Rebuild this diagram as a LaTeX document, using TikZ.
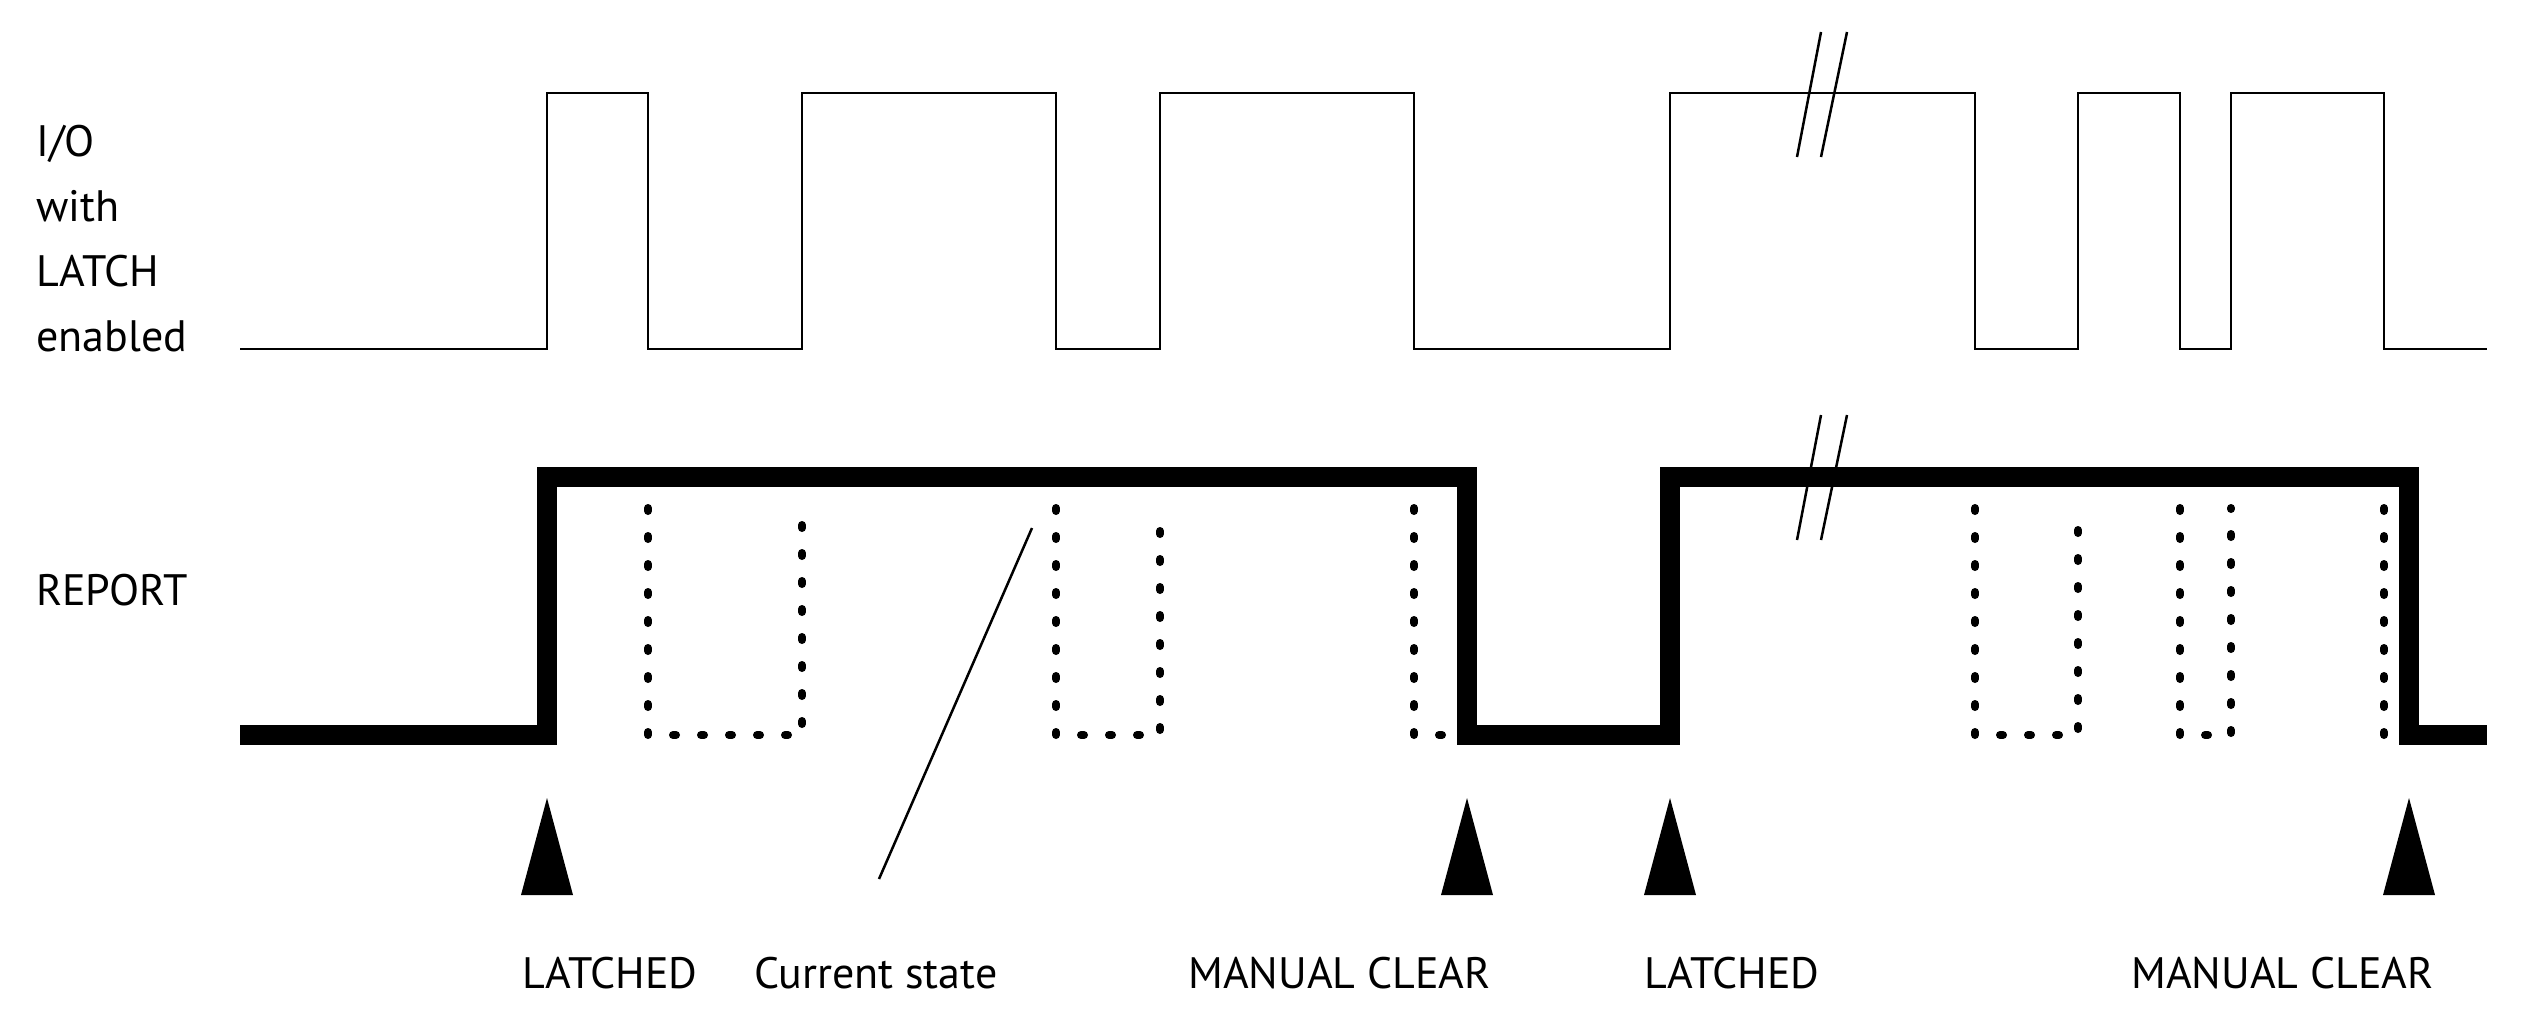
\documentclass[tikz,border=0pt]{standalone}
\usepackage{fontspec}
\setmainfont{PT Sans}
\begin{document}
\begin{tikzpicture}[x=1pt,y=-1pt,
  io/.style={line width=2.5pt},
  rep/.style={line width=20pt,line join=miter},
  dots/.style={line width=8pt,line cap=round,dash pattern=on 3pt off 25pt},
  brk/.style={line width=2.5pt},
  trimark/.style={fill=black},
  lbl/.style={font=\fontsize{44}{65}\selectfont,inner sep=0pt}]
\useasboundingbox (0,0) rectangle (2530,1010);
% I/O signal
\draw[io] (240,349) -- (547,349) -- (547,93) -- (648,93) -- (648,349) -- (802,349) -- (802,93) -- (1056,93) -- (1056,349) -- (1160,349) -- (1160,93) -- (1414,93) -- (1414,349) -- (1670,349) -- (1670,93) -- (1975,93) -- (1975,349) -- (2078,349) -- (2078,93) -- (2180,93) -- (2180,349) -- (2231,349) -- (2231,93) -- (2384,93) -- (2384,349) -- (2487,349);
% REPORT
\draw[rep] (240,735) -- (547,735) -- (547,477) -- (1467,477) -- (1467,735) -- (1670,735) -- (1670,477) -- (2409,477) -- (2409,735) -- (2487,735);
% dotted current state
\draw[dots] (648,508) -- (648,735) -- (802,735) -- (802,508);
\draw[dots] (1056,508) -- (1056,735) -- (1160,735) -- (1160,508);
\draw[dots] (1414,508) -- (1414,735) -- (1450,735);
\draw[dots] (1975,508) -- (1975,735) -- (2078,735) -- (2078,508);
\draw[dots] (2180,508) -- (2180,735) -- (2231,735) -- (2231,508);
\draw[dots] (2384,508) -- (2384,735);
% breaks
\draw[brk] (1797,157) -- (1821,32) (1821,157) -- (1847,32);
\draw[brk] (1797,540) -- (1821,415) (1821,540) -- (1847,415);
% markers
\foreach \x in {547,1467,1670,2409}
  \fill[trimark] (\x-26,895) -- (\x,798) -- (\x+26,895) -- cycle;
% labels
\node[lbl,anchor=base west,align=left] (io) at (36,351) {I/O\\with\\LATCH\\enabled};
\node[lbl,anchor=base west] (rp) at (36,605) {REPORT};
\node[lbl,anchor=base west] (l1) at (522,988) {LATCHED};
\node[lbl,anchor=base west] (l2) at (1644,988) {LATCHED};
\node[lbl,anchor=base west,align=left] (cs) at (754,1248) {Current state\\transitions shown\\in dashboard\\(but do not report\\to destinations)};
\node[lbl,anchor=base east,align=right] (mc1) at (1491,1053) {MANUAL CLEAR\\(removes latch)};
\node[lbl,anchor=base east,align=right] (mc2) at (2434,1053) {MANUAL CLEAR\\(removes latch)};
\coordinate (p1) at (1032,528);
\coordinate (p2) at (879,879);
\draw[line width=2.5pt] (p1) -- (p2);
\end{tikzpicture}
\end{document}
